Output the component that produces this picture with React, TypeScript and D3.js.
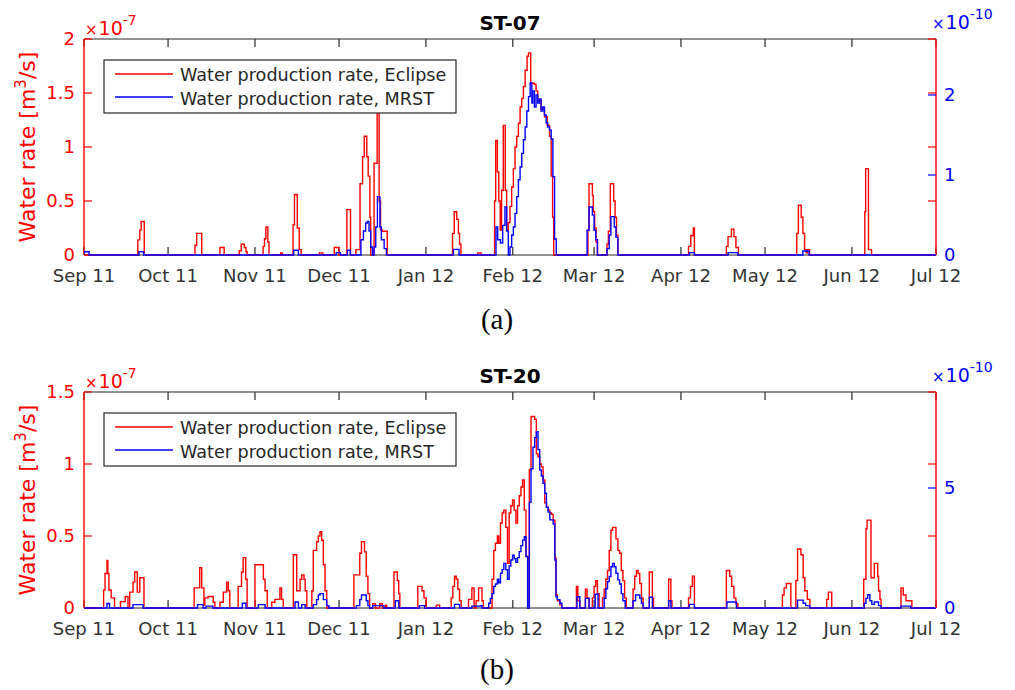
import React from "react";
import * as d3 from "d3";

// Time span of the record (UTC days counted from 1 Sep 2011)
const START = Date.UTC(2011, 8, 1);
const END = Date.UTC(2012, 6, 1);
const DAY = 864e5;

const monthLabels = ["Sep 11", "Oct 11", "Nov 11", "Dec 11", "Jan 12", "Feb 12", "Mar 12", "Apr 12", "May 12", "Jun 12", "Jul 12"];

// Step series as [day since 1 Sep 2011, value]; Eclipse in 1e-7 m3/s, MRST in 1e-10 m3/s.
const st07Eclipse: [number, number][] = [
  [19.2, 0.14], [19.9, 0.23], [20.4, 0.31], [21.5, 0],
  [39.6, 0.09], [40.2, 0.2], [42, 0],
  [48.5, 0.07], [50, 0],
  [55.4, 0.04], [56.1, 0.1], [57.2, 0.07], [57.8, 0.03], [58.2, 0],
  [63.9, 0.08], [64.4, 0.15], [64.9, 0.26], [65.6, 0.12], [66, 0],
  [70.2, 0.02], [70.8, 0],
  [74.6, 0.28], [75.1, 0.56], [76.1, 0.25], [76.8, 0.05], [77.5, 0],
  [84, 0.02], [85.2, 0],
  [89.3, 0.07], [90.9, 0],
  [93.8, 0.42], [95.1, 0],
  [97, 0.05], [98.5, 0.66], [99.4, 0.91], [100, 1.1], [100.9, 0.91], [101.4, 0.73], [102, 0.35], [102.3, 0],
  [103.5, 0.85], [104.6, 1.45], [105.3, 0.5], [105.8, 0.23], [106.5, 0.22], [108.2, 0],
  [131.5, 0.2], [132.1, 0.4], [133, 0.33], [133.6, 0.2], [134, 0.1], [134.5, 0],
  [140.5, 0.02], [141.7, 0],
  [146.5, 0.5], [146.9, 1.06], [147.5, 0.77], [148, 0.5], [148.5, 0.23], [149, 0.6], [149.6, 1.2], [150.3, 0.6],
  [150.8, 0.23], [151.4, 0.3], [152, 0.45], [152.6, 0.63], [153.2, 0.8], [153.8, 1.0], [154.4, 1.1], [155, 1.22],
  [155.6, 1.37], [156.2, 1.45], [156.8, 1.56], [157.4, 1.71], [158.1, 1.84], [158.6, 1.87], [159.4, 1.59],
  [160.7, 1.58], [161.3, 1.52], [161.9, 1.43], [163.1, 1.35], [164.3, 1.28], [165.3, 1.2], [166.1, 1.1],
  [166.7, 0.73], [167.2, 0.35], [167.6, 0],
  [179.8, 0.23], [180.2, 0.66], [181.4, 0.55], [181.7, 0.4], [182.2, 0.25], [182.7, 0.12], [183.2, 0],
  [186.6, 0.1], [187.1, 0.22], [187.8, 0.66], [189, 0.5], [189.5, 0.35], [190, 0.18], [190.5, 0],
  [215.7, 0.08], [216.5, 0.18], [217.4, 0.25], [217.8, 0],
  [229.2, 0.08], [229.8, 0.17], [231, 0.24], [231.9, 0.17], [232.6, 0.07], [233.5, 0],
  [254.3, 0.2], [254.9, 0.46], [255.9, 0.35], [256.5, 0.2], [257.1, 0.05], [257.7, 0.02], [258.1, 0.05], [258.9, 0],
  [278.6, 0.4], [278.9, 0.8], [279.9, 0.05], [281, 0],
];

const st07Mrst: [number, number][] = [
  [0, 0.04], [1.8, 0],
  [19.6, 0.04], [21.3, 0],
  [74.8, 0.06], [76.5, 0],
  [90, 0.03], [91.5, 0],
  [94, 0.06], [95, 0],
  [98.8, 0.19], [99.7, 0.3], [100.5, 0.4], [101.1, 0.42], [101.7, 0.3], [102.3, 0.1], [102.9, 0],
  [103.5, 0.1], [104.1, 0.35], [104.7, 0.73], [105.6, 0.35], [106.1, 0.19], [107.1, 0.08], [107.9, 0],
  [131.8, 0.07], [133.8, 0],
  [147, 0.35], [147.6, 0.19], [148.6, 0.15], [149.4, 0.37], [150.2, 0.6], [150.8, 0.3], [151.4, 0],
  [152, 0.1], [152.6, 0.25], [153.2, 0.35], [153.8, 0.52], [154.4, 0.73], [155, 0.94], [155.6, 1.1],
  [156.2, 1.27], [156.8, 1.44], [157.4, 1.6], [158, 1.8], [158.6, 1.98], [159.2, 2.15], [159.8, 1.9],
  [160.1, 2.05], [160.7, 1.85], [161.3, 2.0], [161.9, 1.9], [162.5, 1.95], [163.1, 1.8], [163.7, 1.85],
  [164.3, 1.75], [164.9, 1.65], [165.5, 1.6], [166.1, 1.56], [166.7, 1.45], [167.3, 0.98], [167.9, 0.2], [168.5, 0],
  [179.5, 0.31], [180.2, 0.6], [181.4, 0.5], [182, 0.31], [182.6, 0.19], [183.2, 0],
  [186.6, 0.08], [187.4, 0.25], [188, 0.48], [189.2, 0.35], [189.8, 0.22], [190.5, 0],
  [216, 0.03], [217.8, 0],
  [229.8, 0.03], [233.3, 0],
  [256.5, 0.05], [258.7, 0],
];

const st20Eclipse: [number, number][] = [
  [7, 0.125], [7.5, 0.24], [8.2, 0.33], [8.5, 0.24], [8.9, 0.125], [9.7, 0.07], [10.9, 0],
  [13, 0.044], [14.7, 0.08], [15.7, 0],
  [16.3, 0.11], [17.5, 0.18], [18.1, 0.25], [18.7, 0.25], [19, 0.11], [19.9, 0.21], [21.1, 0.21], [21.4, 0],
  [39.3, 0.14], [41.3, 0.28], [42, 0.14], [42.8, 0.02], [43.1, 0.07], [44.3, 0.08], [46.1, 0.04], [46.7, 0],
  [48.5, 0.04], [49.7, 0.11], [50.9, 0.18], [51.5, 0.12], [52, 0],
  [55, 0.15], [56.2, 0.25], [56.8, 0.35], [57.7, 0.2], [58.2, 0],
  [61, 0.3], [64, 0.2], [64.6, 0.12], [65.4, 0],
  [67, 0.04], [68.1, 0.06], [69.9, 0.14], [70.5, 0.06], [71.1, 0],
  [74.7, 0.37], [75.9, 0.12], [77.1, 0.2], [77.7, 0.23], [78.5, 0.2], [78.9, 0.12], [79.5, 0],
  [81.3, 0.12], [81.8, 0.4], [83, 0.46], [83.6, 0.5], [84.2, 0.53], [84.8, 0.47], [85.4, 0.3], [86, 0.12], [86.6, 0],
  [96.3, 0.23], [98.4, 0.38], [99, 0.46], [100.1, 0.39], [100.7, 0.22], [101.3, 0.1], [101.9, 0],
  [103, 0.03], [104, 0], [105.5, 0.03], [106.5, 0], [107.5, 0.02], [108, 0],
  [110.6, 0.25], [111.8, 0.19], [112.3, 0.1], [112.7, 0],
  [119.1, 0.15], [120.6, 0.12], [121.3, 0.07], [122.1, 0],
  [125.7, 0.02], [126.9, 0],
  [131, 0.07], [131.6, 0.15], [132.2, 0.22], [132.8, 0.2], [133.4, 0.13], [134, 0.05], [134.6, 0],
  [137.2, 0.06], [138.4, 0.14], [139.2, 0], [139.9, 0.05], [140.8, 0.14], [141.4, 0.14], [142, 0.05], [142.5, 0],
  [145.6, 0.2], [146.2, 0.4], [146.8, 0.45], [147.5, 0.5], [148, 0.45], [148.6, 0.59], [149.2, 0.66], [149.8, 0.68],
  [150.5, 0.56], [151.1, 0.31], [151.7, 0.66], [152.3, 0.71], [152.9, 0.75], [153.5, 0.68], [154.1, 0.59],
  [154.7, 0.71], [155.3, 0.78], [155.9, 0.84], [156.5, 0.89], [157.1, 0.68], [157.7, 0.36], [158.3, 0],
  [158.9, 0.96], [159.5, 1.33], [160.8, 1.31], [161.4, 1.07], [162, 1.05], [162.6, 1.0], [163.2, 0.98],
  [163.8, 0.89], [164.4, 0.73], [165, 0.7], [165.6, 0.68], [166.2, 0.66], [166.8, 0.65], [167.4, 0.61],
  [168, 0.35], [168.4, 0.09], [168.9, 0.05], [169.8, 0.02], [170.5, 0],
  [175.7, 0.15], [176.2, 0.05], [176.9, 0],
  [178.9, 0.13], [179.5, 0.07], [180.2, 0],
  [181.4, 0.07], [182, 0.15], [182.6, 0.19], [183.2, 0.1], [183.8, 0],
  [185, 0.07], [185.6, 0.13], [186.2, 0.2], [186.8, 0.26], [187.4, 0.4], [188, 0.54], [188.6, 0.56],
  [189.8, 0.48], [190.5, 0.4], [191.1, 0.38], [191.7, 0.26], [192.3, 0.19], [192.9, 0.07], [193.5, 0],
  [195.9, 0.13], [196.5, 0.22], [197.1, 0.26], [197.7, 0.24], [198.3, 0.17], [198.9, 0.07], [199.5, 0],
  [201.7, 0.25], [202.8, 0.07], [203.2, 0],
  [208.6, 0.2], [209.4, 0.05], [209.8, 0],
  [215.7, 0.07], [216.4, 0.15], [217.1, 0.22], [217.8, 0],
  [229.2, 0.26], [230.4, 0.22], [231.1, 0.15], [231.9, 0.07], [232.6, 0.03], [233.3, 0],
  [249.2, 0.09], [249.8, 0.14], [250.6, 0.17], [252.2, 0],
  [254, 0.19], [254.6, 0.41], [255.8, 0.37], [256.6, 0.21], [257.2, 0.12], [258.1, 0.06], [259, 0],
  [265, 0.06], [265.6, 0.11], [266.8, 0],
  [278.2, 0.2], [279, 0.55], [279.4, 0.61], [280.8, 0.21], [282, 0.31], [283.2, 0.22], [283.5, 0.12], [284, 0.06], [284.4, 0],
  [291.5, 0.14], [292.3, 0.09], [293.3, 0.05], [295.4, 0],
];

const st20Mrst: [number, number][] = [
  [8.2, 0.19], [9.1, 0],
  [17.5, 0.14], [21.1, 0],
  [40.5, 0.14], [42.5, 0], [43.5, 0.08], [46, 0],
  [56.5, 0.2], [57.8, 0],
  [62.2, 0.14], [64.6, 0],
  [75.3, 0.25], [76.5, 0], [77.7, 0.14], [78.9, 0],
  [81.8, 0.14], [83, 0.35], [83.6, 0.54], [84.2, 0.6], [85.4, 0.35], [86.6, 0.1], [87.4, 0],
  [97.2, 0.1], [98.4, 0.35], [99, 0.54], [100.1, 0.54], [100.7, 0.3], [101.3, 0.1], [101.9, 0],
  [103, 0.1], [107, 0],
  [111.1, 0.3], [112.3, 0],
  [119.7, 0.1], [121.5, 0],
  [132.2, 0.15], [134, 0],
  [138.4, 0.08], [141.4, 0.1], [142, 0],
  [144.4, 0.2], [145, 0.4], [145.6, 0.6], [146.2, 0.9], [146.8, 1.0], [147.5, 1.2], [148, 1.05], [148.6, 1.45],
  [149.2, 1.6], [149.8, 1.86], [150.5, 1.6], [151.1, 1.2], [151.7, 1.75], [152.3, 2.0], [152.9, 2.2],
  [153.5, 2.05], [154.1, 1.9], [154.7, 2.1], [155.3, 2.35], [155.9, 2.6], [156.5, 2.83], [157.1, 2.97],
  [157.7, 2.14], [158.3, 0], [158.9, 4.4], [159.5, 5.8], [160.2, 6.7], [160.8, 7.1], [161.4, 7.35],
  [162, 6.6], [162.6, 5.75], [163.2, 5.5], [163.8, 5.2], [164.4, 4.78], [165, 4.2], [165.6, 4.0],
  [166.2, 3.67], [167.4, 3.5], [168, 2.0], [168.4, 0.47], [168.9, 0.35], [169.8, 0.2], [170.5, 0],
  [175.9, 0.47], [176.9, 0],
  [178.9, 0.4], [180.2, 0],
  [182.4, 0.57], [183.4, 0],
  [185.6, 0.4], [186.2, 0.8], [186.8, 1.1], [187.4, 1.31], [188, 1.72], [188.6, 1.86], [189.2, 1.72],
  [189.8, 1.45], [190.5, 1.17], [191.1, 1.0], [191.7, 0.6], [192.3, 0.3], [193.1, 0],
  [195.9, 0.3], [196.8, 0.54], [198.3, 0.4], [198.9, 0.2], [199.5, 0],
  [201.7, 0.45], [202.8, 0],
  [208.6, 0.3], [209.4, 0],
  [216, 0.15], [217.8, 0],
  [229.4, 0.25], [232.8, 0],
  [254.6, 0.33], [256.6, 0.2], [257.5, 0.1], [259, 0],
  [278.4, 0.2], [279, 0.4], [279.6, 0.55], [280.4, 0.3], [281.1, 0.15], [282, 0.25], [283.5, 0.1], [284.4, 0],
  [291.5, 0.08], [295, 0],
];

const st07LeftTicks = [0, 0.5, 1, 1.5, 2];
const st07RightTicks = [0, 1, 2];
const st20LeftTicks = [0, 0.5, 1, 1.5];
const st20RightTicks = [0, 5];

const RED = "#ff0000";
const BLUE = "#0000ff";
const INK = "#262626";
const FONT = "DejaVu Sans, Verdana, sans-serif";

const LEFT = 84;
const RIGHT = 936;
const PLOT_H = 216;

const x = d3.scaleUtc().domain([new Date(START), new Date(END)]).range([LEFT, RIGHT]);
const monthDates = d3.utcMonth.range(new Date(START), new Date(END + DAY));

function fullSeries(pts: [number, number][]): [number, number][] {
  const days = (END - START) / DAY;
  return [[0, 0], ...pts, [days, 0]];
}

function fmt(v: number) {
  return String(v);
}

type PanelProps = {
  top: number;
  title: string;
  eclipse: [number, number][];
  mrst: [number, number][];
  leftMax: number;
  leftTicks: number[];
  rightMax: number;
  rightTicks: number[];
  caption: string;
  captionY: number;
  id: string;
};

function Panel(p: PanelProps) {
  const bottom = p.top + PLOT_H;
  const yL = d3.scaleLinear().domain([0, p.leftMax]).range([bottom, p.top]);
  const yR = d3.scaleLinear().domain([0, p.rightMax]).range([bottom, p.top]);
  const toX = (d: number) => x(new Date(START + d * DAY));
  const lineL = d3.line<[number, number]>().x((d) => toX(d[0])).y((d) => yL(d[1])).curve(d3.curveStepAfter);
  const lineR = d3.line<[number, number]>().x((d) => toX(d[0])).y((d) => yR(d[1])).curve(d3.curveStepAfter);
  const tl = 8;
  const legX = 104;
  const legY = p.top + 21;

  return (
    <g>
      <defs>
        <clipPath id={p.id}>
          <rect x={LEFT} y={p.top - 1} width={RIGHT - LEFT} height={PLOT_H + 2} />
        </clipPath>
      </defs>
      {/* frame */}
      <line x1={LEFT} x2={RIGHT} y1={p.top} y2={p.top} stroke={INK} strokeWidth={1.2} />
      <line x1={LEFT} x2={RIGHT} y1={bottom} y2={bottom} stroke={INK} strokeWidth={1.2} />
      {/* month ticks, bottom and top */}
      {monthDates.map((d, i) => (
        <g key={i}>
          <line x1={x(d)} x2={x(d)} y1={bottom} y2={bottom - tl} stroke={INK} strokeWidth={1.2} />
          <line x1={x(d)} x2={x(d)} y1={p.top} y2={p.top + tl} stroke={INK} strokeWidth={1.2} />
          <text x={x(d)} y={bottom + 27} textAnchor="middle" fontSize={18} fill="#333" fontFamily={FONT}>
            {monthLabels[i]}
          </text>
        </g>
      ))}
      {/* left axis */}
      <line x1={LEFT} x2={LEFT} y1={p.top} y2={bottom} stroke={RED} strokeWidth={1.4} />
      {p.leftTicks.map((t) => (
        <g key={"l" + t}>
          <line x1={LEFT} x2={LEFT + tl} y1={yL(t)} y2={yL(t)} stroke={RED} strokeWidth={1.2} />
          <line x1={RIGHT} x2={RIGHT - tl} y1={yL(t)} y2={yL(t)} stroke={RED} strokeWidth={1.2} />
          <text x={LEFT - 9} y={yL(t)} dy="0.36em" textAnchor="end" fontSize={18} fill={RED} fontFamily={FONT}>
            {fmt(t)}
          </text>
        </g>
      ))}
      {/* right axis */}
      <line x1={RIGHT} x2={RIGHT} y1={p.top} y2={bottom} stroke={RED} strokeWidth={1.4} />
      {p.rightTicks.map((t) => (
        <g key={"r" + t}>
          <line x1={RIGHT} x2={RIGHT - tl} y1={yR(t)} y2={yR(t)} stroke={BLUE} strokeWidth={1.2} />
          <text x={RIGHT + 8} y={yR(t)} dy="0.36em" textAnchor="start" fontSize={18} fill={BLUE} fontFamily={FONT}>
            {fmt(t)}
          </text>
        </g>
      ))}
      {/* exponent multipliers */}
      <text x={LEFT + 1} y={p.top - 4} fill={RED} fontFamily={FONT} fontSize={19}>
        <tspan fontSize={15}>×</tspan>
        <tspan dx={1}>10</tspan>
        <tspan fontSize={14} dy={-10}>-7</tspan>
      </text>
      <text x={RIGHT - 4} y={p.top - 10} fill={BLUE} fontFamily={FONT} fontSize={19}>
        <tspan fontSize={15}>×</tspan>
        <tspan dx={1}>10</tspan>
        <tspan fontSize={14} dy={-10}>-10</tspan>
      </text>
      {/* title */}
      <text x={(LEFT + RIGHT) / 2} y={p.top - 9} textAnchor="middle" fontSize={20} fontWeight="bold" fill="#000" fontFamily={FONT}>
        {p.title}
      </text>
      {/* y label */}
      <text
        transform={`translate(35,${(p.top + bottom) / 2}) rotate(-90)`}
        textAnchor="middle"
        fontSize={22}
        fill={RED}
        fontFamily={FONT}
      >
        Water rate [m<tspan fontSize={15} dy={-9}>3</tspan>
        <tspan dy={9}>/s]</tspan>
      </text>
      {/* series */}
      <g clipPath={`url(#${p.id})`} fill="none" strokeLinejoin="miter">
        <path d={lineL(fullSeries(p.eclipse)) || ""} stroke={RED} strokeWidth={1.4} />
        <path d={lineR(fullSeries(p.mrst)) || ""} stroke={BLUE} strokeWidth={1.4} />
      </g>
      {/* legend */}
      <rect x={legX} y={legY} width={352} height={53} fill="#fff" stroke={INK} strokeWidth={1.2} />
      <line x1={legX + 11} x2={legX + 69} y1={legY + 14} y2={legY + 14} stroke={RED} strokeWidth={1.4} />
      <line x1={legX + 11} x2={legX + 69} y1={legY + 37} y2={legY + 37} stroke={BLUE} strokeWidth={1.4} />
      <text x={legX + 76} y={legY + 21} fontSize={17.6} fill={INK} fontFamily={FONT}>
        Water production rate, Eclipse
      </text>
      <text x={legX + 76} y={legY + 45} fontSize={17.6} fill={INK} fontFamily={FONT}>
        Water production rate, MRST
      </text>
      {/* panel caption */}
      <text x={497} y={p.captionY} textAnchor="middle" fontSize={29} fill="#000" fontFamily="Liberation Serif, serif">
        {p.caption}
      </text>
    </g>
  );
}

export default function App() {
  return (
    <svg
      width={1015}
      height={690}
      style={{ position: "absolute", left: 0, top: 0, background: "#fff" }}
    >
      <rect width={1015} height={690} fill="#fff" />
      <Panel
        id="clipA"
        top={39}
        title="ST-07"
        eclipse={st07Eclipse}
        mrst={st07Mrst}
        leftMax={2}
        leftTicks={st07LeftTicks}
        rightMax={2.7}
        rightTicks={st07RightTicks}
        caption="(a)"
        captionY={329}
      />
      <Panel
        id="clipB"
        top={392}
        title="ST-20"
        eclipse={st20Eclipse}
        mrst={st20Mrst}
        leftMax={1.5}
        leftTicks={st20LeftTicks}
        rightMax={9}
        rightTicks={st20RightTicks}
        caption="(b)"
        captionY={679}
      />
    </svg>
  );
}
